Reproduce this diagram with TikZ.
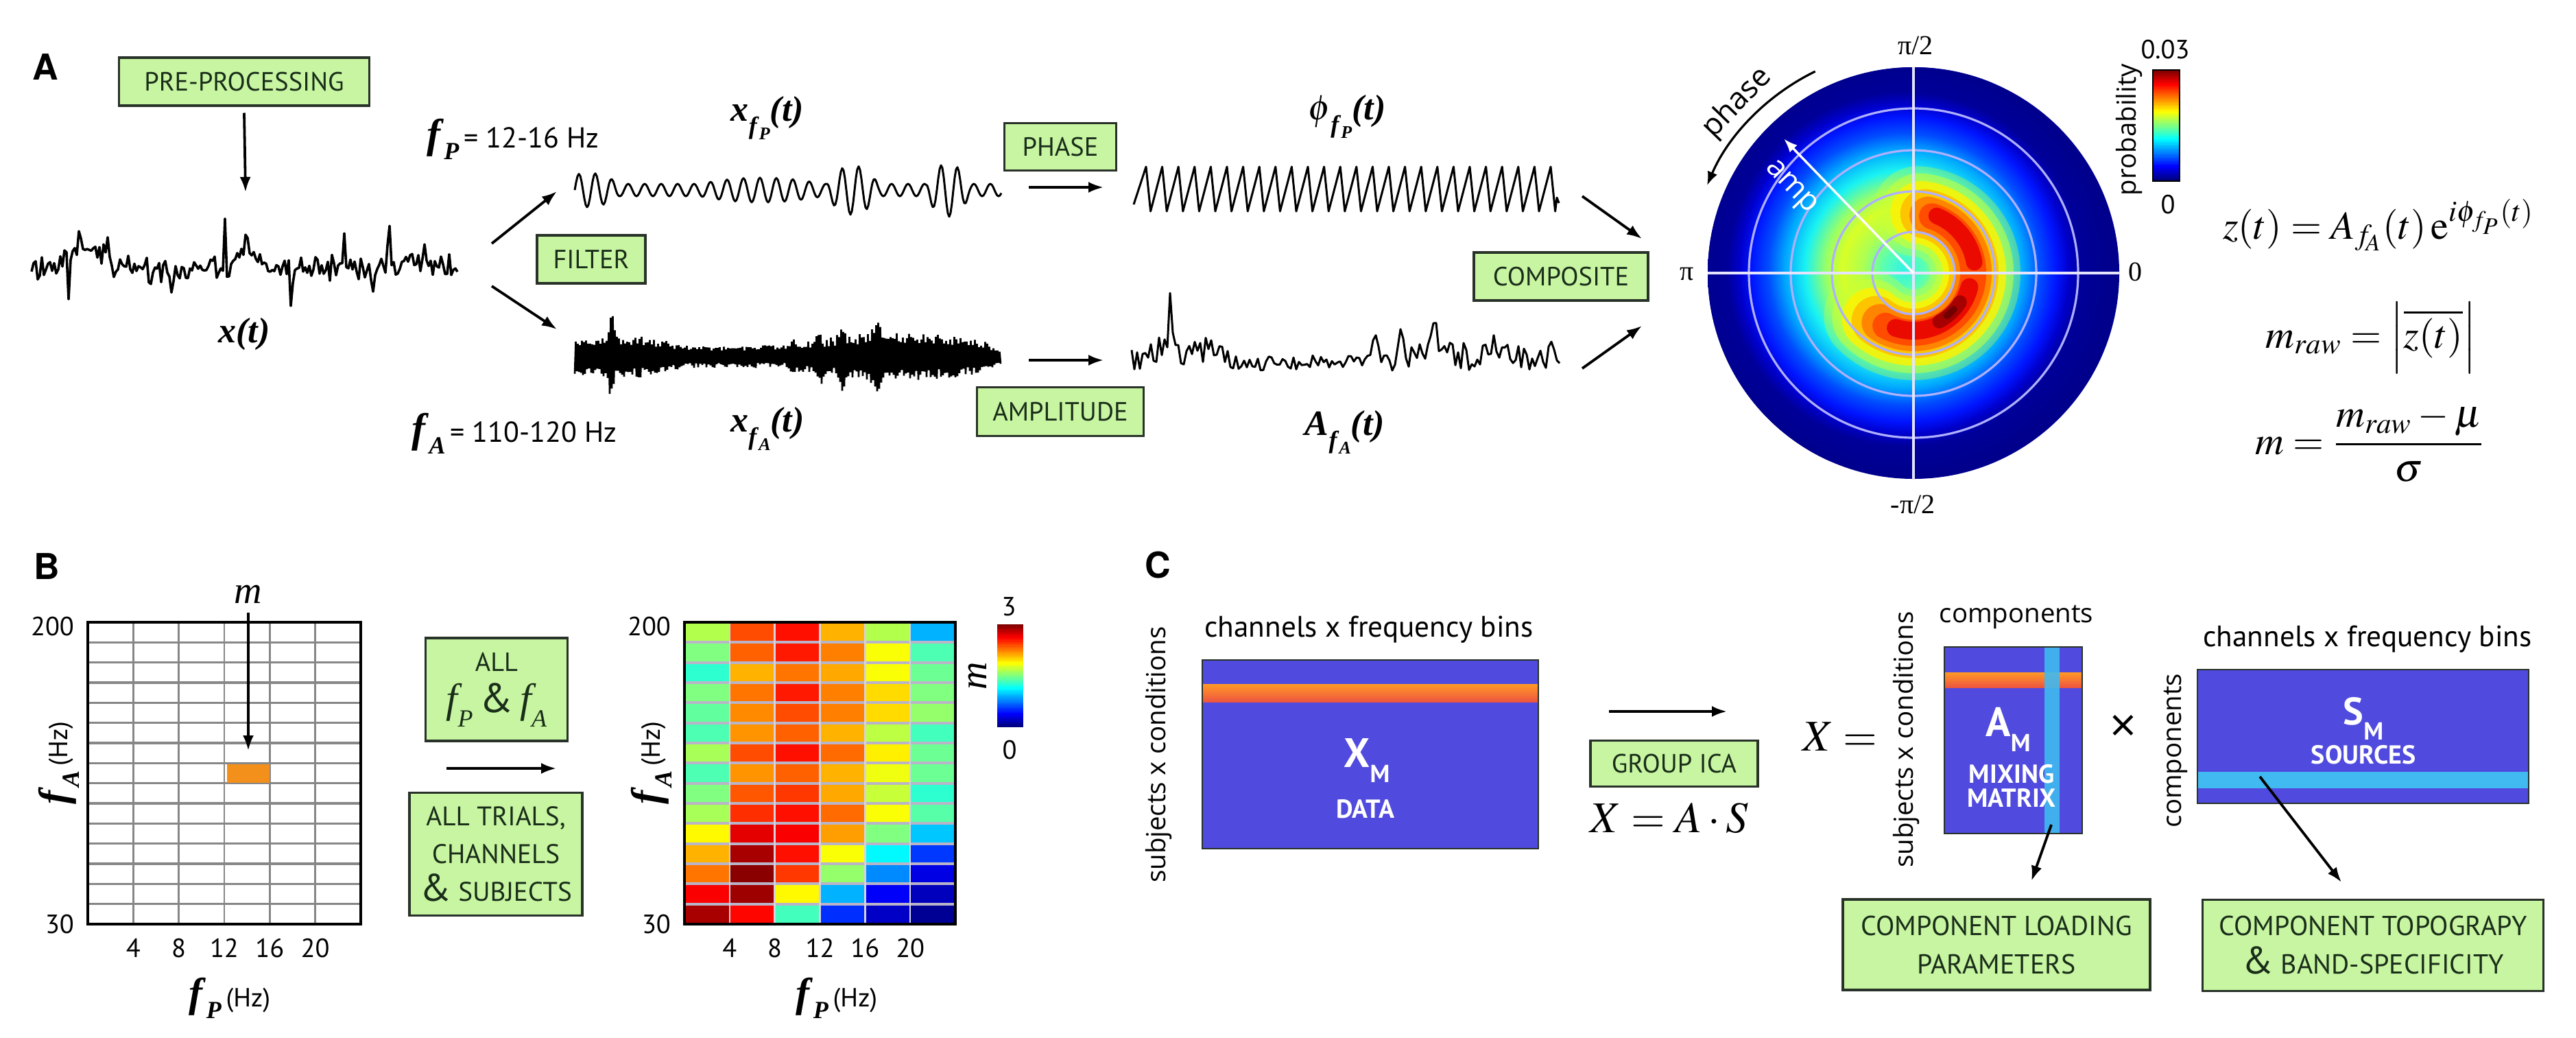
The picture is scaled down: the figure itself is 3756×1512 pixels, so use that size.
\documentclass[tikz,border=0pt]{standalone}
\usepackage{amsmath}
\usepackage{mathptmx}
\usepackage{fontspec}
\setmainfont{Liberation Serif}
\newfontfamily\boxfont{PT Sans}
\newfontfamily\osans{Open Sans}
\newfontfamily\hsans{TeX Gyre Heros}
\usetikzlibrary{arrows.meta}
\def\pxu{0.25pt}
\newcommand\fsz[2]{\fontsize{#1}{#2}\selectfont}
\newcommand\bi[1]{\textbf{\textit{#1}}}
\newcommand\jetdef[2]{%
  \pgfmathsetmacro\jr{max(0,min(1,1.5-abs(4*#1-3)))}%
  \pgfmathsetmacro\jg{max(0,min(1,1.5-abs(4*#1-2)))}%
  \pgfmathsetmacro\jb{max(0,min(1,1.5-abs(4*#1-1)))}%
  \definecolor{#2}{rgb}{\jr,\jg,\jb}}
\pgfmathdeclarefunction{bump}{3}{\pgfmathparse{max(0,1-((#1-#2)/#3)*((#1-#2)/#3))}}
\pgfmathdeclarefunction{tri}{3}{\pgfmathparse{max(0,1-abs(#1-#2)/#3)}}
\definecolor{boxgreen}{RGB}{200,245,162}
\definecolor{boxline}{RGB}{40,50,40}
\definecolor{boxtext}{RGB}{25,45,25}
\definecolor{matblue}{RGB}{80,74,222}
\definecolor{stripecyan}{RGB}{64,186,240}
\definecolor{gridgray}{RGB}{135,135,135}
\definecolor{heatline}{RGB}{185,180,200}
\definecolor{cellorange}{RGB}{243,144,28}
\definecolor{ringcol}{RGB}{175,175,255}
\definecolor{crossc}{RGB}{228,228,255}
\definecolor{cresA}{rgb}{0.8,1,0.2}
\definecolor{cresB}{rgb}{1,0.95,0}
\definecolor{cresC}{rgb}{1,0.75,0}
\definecolor{cresD}{rgb}{1,0.52,0}
\definecolor{cresE}{rgb}{1,0.3,0}
\definecolor{cresF}{rgb}{0.92,0.04,0}
\definecolor{cresG}{rgb}{0.65,0,0}
\definecolor{cresH}{rgb}{0.45,0,0}
\definecolor{jnavy}{rgb}{0,0,0.55}
\pgfdeclareradialshading{polarjet}{\pgfpoint{0bp}{0bp}}{%
 rgb(0bp)=(0.2,0.95,0.9);
 rgb(2.5bp)=(0.35,1,0.7);
 rgb(5bp)=(0.68,1,0.32);
 rgb(7.5bp)=(0.85,1,0.15);
 rgb(9.5bp)=(0.6,1,0.4);
 rgb(12bp)=(0.1,0.95,0.95);
 rgb(14.5bp)=(0,0.65,1);
 rgb(16.5bp)=(0,0.3,1);
 rgb(18.5bp)=(0,0.08,1);
 rgb(20bp)=(0,0,0.8);
 rgb(21.5bp)=(0,0,0.6);
 rgb(25bp)=(0,0,0.55);
 rgb(50bp)=(0,0,0.55)}
\begin{document}
\begin{tikzpicture}[x=0.25pt,y=-0.25pt,
  procbox/.style={draw=boxline, fill=boxgreen, line width=0.85pt, text=boxtext, font=\boxfont\fsz{9.6}{12}, inner sep=0pt, align=center},
  arr/.style={-{Latex[length=5.5pt,width=4pt]}, line width=0.95pt},
  sig/.style={line width=0.75pt, line join=round},
  panel/.style={font=\hsans\bfseries\fsz{13}{15}},
  tick/.style={font=\boxfont\fsz{9.6}{12}},
  osl/.style={font=\osans\fsz{9.6}{12}},
  chl/.style={font=\boxfont\fsz{10.8}{13}},
  wtxt/.style={text=white, font=\boxfont\bfseries\fsz{9.5}{11}},
  plab/.style={font=\fsz{10}{12}},
  eqs/.style={font=\fsz{14.5}{17}, anchor=base},
  siglab/.style={font=\fsz{13}{15}},
]
\fill[white] (0,0) rectangle (3756,1512);
\useasboundingbox (0,0) rectangle (3756,1512);

%================ PANEL A ================
\node[panel] (labA) at (66,98) {A};
\node[procbox, minimum width=365*\pxu, minimum height=70*\pxu] (pre) at (356,119) {PRE-PROCESSING};
\coordinate (preEnd) at (358,280);
\draw[arr] ([yshift=-2.2pt]pre.south) -- (preEnd);

% raw signal
\pgfmathsetseed{7}
\draw[sig, line width=0.9pt] plot[samples at={46,49,...,667}] (\x, {388 + 15*rand + 7*sin(40*mod(\x,9))
  - 32*bump(\x,118,40) + 10*bump(\x,230,50) - 20*bump(\x,355,30) + 4*bump(\x,470,60) - 8*bump(\x,610,40)
  + 80*tri(\x,100,3.5) - 55*tri(\x,157,3.5) - 75*tri(\x,328,3.5) + 50*tri(\x,331,3.5)
  - 50*tri(\x,502,3.5) + 48*tri(\x,544,3.5) - 62*tri(\x,568,3.5) - 30*tri(\x,619,3.5)
  + 35*tri(\x,250,3.5) - 30*tri(\x,361,3.5) + 40*tri(\x,424,3.5) - 28*tri(\x,460,3.5)});
\node[siglab] (xt) at (356,487) {\bi{x(t)}};

% filter fork
\coordinate (fork1) at (717,355);
\coordinate (fork1e) at (812,279);
\coordinate (fork2) at (717,417);
\coordinate (fork2e) at (812,480);
\draw[arr] (fork1) -- (fork1e);
\draw[arr] (fork2) -- (fork2e);
\node[procbox, minimum width=158*\pxu, minimum height=70*\pxu] (filter) at (862,378) {FILTER};

\node (fPlab) at (748,203) {{\fsz{15}{15}\bi{f}}\raisebox{-0.9ex}{\fsz{9}{9}\bi{P}}\,{\boxfont\fsz{10.5}{12}= 12-16 Hz}};
\node (fAlab) at (750,632) {{\fsz{15}{15}\bi{f}}\raisebox{-0.9ex}{\fsz{9}{9}\bi{A}}\,{\boxfont\fsz{10.5}{12}= 110-120 Hz}};
\node[siglab] (xfP) at (1119,172) {\bi{x}\raisebox{-0.8ex}{\fsz{9}{9}\bi{f}\raisebox{-0.5ex}{\fsz{6.5}{6.5}\bi{P}}}\bi{(t)}};
\node[siglab] (xfA) at (1119,625) {\bi{x}\raisebox{-0.8ex}{\fsz{9}{9}\bi{f}\raisebox{-0.5ex}{\fsz{6.5}{6.5}\bi{A}}}\bi{(t)}};

% upper filtered wave (12-16 Hz)
\draw[sig] plot[domain=838:1460, samples=312] (\x, {277 - (9 + 16*bump(\x,858,45) + 9*bump(\x,1110,90) + 27*bump(\x,1243,38) + 30*bump(\x,1382,32))*sin(15*(\x-838))});

% lower filtered wave (110-120 Hz)
\pgfmathsetseed{11}
\draw[line width=0.65pt] plot[samples at={838,839.5,...,1459}] (\x, {520 + (1-2*mod(round((\x-838)/1.5),2))*(0.6+0.5*rnd)*(15 + 14*bump(\x,900,95) + 17*bump(\x,1310,160) + 42*tri(\x,891,7) + 28*tri(\x,1193,9) + 24*tri(\x,1228,9) + 32*tri(\x,1277,9) + 10*tri(\x,1158,14) - 8*tri(\x,1460,30))});

% phase / amplitude
\node[procbox, minimum width=163*\pxu, minimum height=69*\pxu] (phase) at (1546,214) {PHASE};
\coordinate (ph1) at (1500,273);
\coordinate (ph2) at (1609,273);
\draw[arr] (ph1) -- (ph2);
\node[procbox, minimum width=243*\pxu, minimum height=71*\pxu] (ampl) at (1546,600) {AMPLITUDE};
\coordinate (am1) at (1500,525);
\coordinate (am2) at (1609,525);
\draw[arr] (am1) -- (am2);

\node[siglab] (phil) at (1964,170) {$\phi$\raisebox{-0.8ex}{\fsz{9}{9}\bi{f}\raisebox{-0.5ex}{\fsz{6.5}{6.5}\bi{P}}}\bi{(t)}};
\node[siglab] (Al) at (1961,630) {\bi{A}\raisebox{-0.8ex}{\fsz{9}{9}\bi{f}\raisebox{-0.5ex}{\fsz{6.5}{6.5}\bi{A}}}\bi{(t)}};

% sawtooth phase
\draw[sig] (1653,298) \foreach \k in {0,...,25} { -- ({1654+\k*23.6+17}, 243) -- ({1654+\k*23.6+23.6}, 308) } -- (2270,288) -- (2273,296);

% amplitude envelope
\pgfmathsetseed{5}
\draw[sig] plot[samples at={1650,1654,...,2274}] (\x, {540 - (22 + 32*bump(\x,1720,85) + 20*bump(\x,2130,150))*rnd
  - 95*tri(\x,1706,6) - 50*tri(\x,2006,10) - 40*tri(\x,2042,10) - 55*tri(\x,2090,10) - 30*tri(\x,2178,8) - 20*tri(\x,2262,8)});

% composite
\node[procbox, minimum width=254*\pxu, minimum height=70*\pxu] (comp) at (2276,403) {COMPOSITE};
\coordinate (c1) at (2307,286);
\coordinate (c1e) at (2394,348);
\coordinate (c2) at (2307,537);
\coordinate (c2e) at (2394,475);
\draw[arr] (c1) -- (c1e);
\draw[arr] (c2) -- (c2e);

% polar plot
\begin{scope}[shift={(2790,398)}, yscale=-1]
  \fill[jnavy] (0,0) circle (300);
  \begin{scope}
    \clip (0,0) circle (300);
    \shade[shading=polarjet] (-14,6) circle (300);
  \end{scope}
  \draw[cresA, opacity=0.35, line width=33pt, line cap=round] (86:90) arc[start angle=86, end angle=-136, radius=90];
  \draw[cresA, opacity=0.55, line width=28pt, line cap=round] (84:90) arc[start angle=84, end angle=-134, radius=90];
  \draw[cresB, opacity=0.8, line width=23pt, line cap=round] (82:89) arc[start angle=82, end angle=-131, radius=89];
  \draw[cresC, opacity=0.9, line width=18pt, line cap=round] (79:88) arc[start angle=79, end angle=-128, radius=88];
  \draw[cresD, line width=13.5pt, line cap=round] (76:87) arc[start angle=76, end angle=-124, radius=87];
  \draw[cresE, line width=9.5pt, line cap=round] (72:87) arc[start angle=72, end angle=-118, radius=87];
  \draw[cresF, line width=6pt, line cap=round] (68:90) arc[start angle=68, end angle=10, radius=90];
  \draw[cresF, line width=6.5pt, line cap=round] (-14:84) arc[start angle=-14, end angle=-108, radius=84];
  \draw[cresG, line width=5pt, line cap=round] (-32:80) arc[start angle=-32, end angle=-62, radius=80];
  \draw[cresH, line width=2.5pt, line cap=round] (-42:79) arc[start angle=-42, end angle=-52, radius=79];
  \foreach \r in {60,119,179,240} \draw[ringcol, line width=0.8pt] (0,0) circle (\r);
  \coordinate (pW) at (-300,0);
  \coordinate (pE) at (300,0);
  \coordinate (pN) at (0,300);
  \coordinate (pS) at (0,-300);
  \draw[crossc, line width=1pt] (pW) -- (pE);
  \draw[crossc, line width=1pt] (pN) -- (pS);
  \coordinate (pc) at (0,0);
  \coordinate (amptip) at (134:272);
  \draw[white, line width=0.85pt, -{Latex[length=5pt,width=3.8pt]}] (pc) -- (amptip);
  \node[text=white, rotate=-46, font=\osans\fsz{11}{12}] (amptxt) at (-180,124) {amp};
  \coordinate (phs) at (116:327);
  \draw[line width=0.8pt, -{Latex[length=5pt,width=3.8pt]}] (phs) arc[start angle=116, end angle=157, radius=327];
  \node[rotate=46, font=\osans\fsz{11}{13}] (phasetxt) at (136:357) {phase};
\end{scope}
\node[plab] (pi2) at (2793,66) {π/2};
\node[plab] (pi1) at (2460,400) {π};
\node[plab] (zero1) at (3113,396) {0};
\node[plab] (mpi2) at (2789,735) {-π/2};

% colorbar A
\foreach \i in {0,...,63} {
  \pgfmathsetmacro\v{\i/63}
  \jetdef{\v}{cbc}
  \fill[cbc] (3139,{264-\i*2.53125}) rectangle (3178,{264-(\i+1)*2.53125-0.4});
}
\draw[line width=0.4pt] (3139,102) rectangle (3178,264);
\node[tick] (cb03) at (3157,72) {0.03};
\node[tick] (cb0) at (3161,298) {0};
\node[osl, rotate=90] (prob) at (3104,189) {probability};

% equations
\node[eqs] (eq1) at (3468,348) {$z(t)=A_{f_{\!A}}(t)\,\mathrm{e}^{i\phi_{f_P}(t)}$};
\node[eqs] (eq2) at (3457,507) {$m_{raw}=\left|\overline{z(t)}\right|$};
\node[eqs] (eq3) at (3456,662) {$m=\dfrac{m_{raw}-\mu}{\sigma}$};

%================ PANEL B ================
\node[panel] (labB) at (68,826) {B};
% left empty grid
\foreach \i in {1,...,14} \draw[gridgray, line width=0.8pt] (128,{907+\i*29.333}) -- (526,{907+\i*29.333});
\foreach \j in {1,...,5} \draw[gridgray, line width=0.6pt] ({128+\j*66.33},907) -- ({128+\j*66.33},1347);
\fill[cellorange] (331,1114) rectangle (393,1141);
\draw[line width=1pt] (128,907) rectangle (526,1347);
\node[font=\fsz{14}{14}\itshape] (mlab) at (362,866) {m};
\coordinate (mEnd) at (362,1094);
\draw[arr] (mlab.south) -- (mEnd);
\node[tick, anchor=east] (l200) at (122,913) {200};
\node[tick, anchor=east] (l30) at (122,1347) {30};
\foreach \t [count=\j] in {4,8,12,16,20} \node[tick] (lt\j) at ({128+\j*66.33},1382) {\t};
\node[rotate=90] (lfa) at (86,1112) {{\fsz{15}{15}\bi{f}}\raisebox{-0.9ex}{\fsz{9}{9}\bi{A}}\,{\boxfont\fsz{9.6}{12}(Hz)}};
\node (lfp) at (335,1455) {{\fsz{15}{15}\bi{f}}\raisebox{-0.9ex}{\fsz{9}{9}\bi{P}}\,{\boxfont\fsz{9.6}{12}(Hz)}};

% middle boxes
\node[procbox, minimum width=207*\pxu, minimum height=150*\pxu] (allf) at (724,1005) {ALL\\[3pt]{\fsz{15}{15}{\rmfamily\itshape f}\raisebox{-0.7ex}{\fsz{9}{9}\rmfamily\itshape P}\,\&\,{\rmfamily\itshape f}\raisebox{-0.7ex}{\fsz{9}{9}\rmfamily\itshape A}}};
\coordinate (bA1) at (651,1120);
\coordinate (bA2) at (811,1120);
\draw[arr] (bA1) -- (bA2);
\node[procbox, minimum width=252*\pxu, minimum height=179*\pxu, font=\boxfont\fsz{9.8}{13.8}] (alltr) at (723,1245) {ALL TRIALS,\\CHANNELS\\{\fsz{14}{14}\&} SUBJECTS};

% heatmap
\foreach \row [count=\r from 0] in {
 {0.55,0.80,0.86,0.70,0.55,0.30},
 {0.50,0.78,0.85,0.75,0.62,0.45},
 {0.42,0.70,0.76,0.71,0.62,0.48},
 {0.50,0.76,0.85,0.75,0.66,0.50},
 {0.47,0.74,0.80,0.75,0.66,0.52},
 {0.45,0.73,0.78,0.70,0.56,0.44},
 {0.54,0.80,0.86,0.77,0.64,0.48},
 {0.45,0.73,0.78,0.70,0.61,0.48},
 {0.50,0.79,0.82,0.71,0.57,0.42},
 {0.54,0.83,0.86,0.77,0.62,0.46},
 {0.63,0.90,0.88,0.72,0.50,0.32},
 {0.70,0.96,0.86,0.62,0.37,0.18},
 {0.76,0.99,0.82,0.52,0.26,0.10},
 {0.88,0.97,0.63,0.30,0.12,0.06},
 {0.96,0.87,0.44,0.17,0.07,0.02}} {
  \foreach \v [count=\c from 0] in \row {
    \jetdef{\v}{hc}
    \fill[hc] ({998+\c*65.833},{907+\r*29.333}) rectangle ({998+(\c+1)*65.833},{907+(\r+1)*29.333});
  }
}
\foreach \i in {1,...,14} \draw[heatline, line width=1pt] (998,{907+\i*29.333}) -- (1393,{907+\i*29.333});
\foreach \j in {1,...,5} \draw[heatline!60!white, line width=0.6pt] ({998+\j*65.833},907) -- ({998+\j*65.833},1347);
\draw[line width=1pt] (998,907) rectangle (1393,1347);
\node[tick, anchor=east] (r200) at (992,913) {200};
\node[tick, anchor=east] (r30) at (992,1347) {30};
\foreach \t [count=\j] in {4,8,12,16,20} \node[tick] (rt\j) at ({998+\j*65.833},1382) {\t};
\node[rotate=90] (rfa) at (950,1112) {{\fsz{15}{15}\bi{f}}\raisebox{-0.9ex}{\fsz{9}{9}\bi{A}}\,{\boxfont\fsz{9.6}{12}(Hz)}};
\node (rfp) at (1220,1455) {{\fsz{15}{15}\bi{f}}\raisebox{-0.9ex}{\fsz{9}{9}\bi{P}}\,{\boxfont\fsz{9.6}{12}(Hz)}};
% colorbar B
\foreach \i in {0,...,63} {
  \pgfmathsetmacro\v{\i/63}
  \jetdef{\v}{cbc}
  \fill[cbc] (1454,{1060-\i*2.34375}) rectangle (1492,{1060-(\i+1)*2.34375-0.4});
}
\node[tick] (cb3) at (1471,884) {3};
\node[tick] (cbb0) at (1472,1093) {0};
\node[rotate=90, font=\fsz{14}{14}\itshape] (cbm) at (1425,985) {m};

%================ PANEL C ================
\node[panel] (labC) at (1688,824) {C};
\node[osl, rotate=90] (subj1) at (1690,1100) {subjects x conditions};
\node[chl] (chan1) at (1996,918) {channels x frequency bins};
\fill[matblue] (1753,962) rectangle (2243,1237);
\shade[top color={rgb,1:red,1;green,0.6;blue,0.15}, middle color={rgb,1:red,1;green,0.95;blue,0.1}, bottom color={rgb,1:red,0.93;green,0.33;blue,0.25}] (1753,997) rectangle (2243,1023);
\draw[line width=0.6pt, boxline] (1753,962) rectangle (2243,1237);
\node[text=white, font=\boxfont\bfseries] (XM) at (1993,1108) {{\fsz{15}{15}X}\raisebox{-1.1ex}{\fsz{9}{9}M}};
\node[wtxt] (data) at (1991,1179) {DATA};

\coordinate (ic1) at (2346,1037);
\coordinate (ic2) at (2518,1037);
\draw[arr] (ic1) -- (ic2);
\node[procbox, minimum width=244*\pxu, minimum height=67*\pxu] (ica) at (2441,1113) {GROUP ICA};
\node[font=\fsz{16}{18}] (xas) at (2434,1193) {$X=A\cdot S$};
\node[font=\fsz{16}{18}] (xeq) at (2683,1074) {$X=$};

\node[osl, rotate=90] (subj2) at (2779,1078) {subjects x conditions};
\node[osl] (comp1) at (2940,899) {components};
\fill[matblue] (2835,943) rectangle (3036,1215);
\shade[top color={rgb,1:red,1;green,0.6;blue,0.15}, middle color={rgb,1:red,1;green,0.95;blue,0.1}, bottom color={rgb,1:red,0.93;green,0.33;blue,0.25}] (2835,980) rectangle (3036,1002);
\fill[stripecyan, opacity=0.9] (2981,943) rectangle (3003,1215);
\draw[line width=0.6pt, boxline] (2835,943) rectangle (3036,1215);
\node[text=white, font=\boxfont\bfseries] (AM) at (2928,1063) {{\fsz{15}{15}A}\raisebox{-1.1ex}{\fsz{9}{9}M}};
\node[wtxt] (mix) at (2933,1128) {MIXING};
\node[wtxt] (matx) at (2933,1163) {MATRIX};

\node[font=\osans\fsz{17}{18}] (times) at (3096,1062) {×};
\node[osl, rotate=90] (comp2) at (3172,1094) {components};
\node[chl] (chan2) at (3452,932) {channels x frequency bins};
\fill[matblue] (3204,976) rectangle (3687,1171);
\fill[stripecyan] (3204,1125) rectangle (3687,1149);
\draw[line width=0.6pt, boxline] (3204,976) rectangle (3687,1171);
\node[text=white, font=\boxfont\bfseries] (SM) at (3446,1047) {{\fsz{14}{14}S}\raisebox{-1.1ex}{\fsz{9}{9}M}};
\node[wtxt] (src) at (3446,1100) {SOURCES};

\coordinate (aS) at (2991,1202);
\coordinate (aE) at (2962,1284);
\draw[arr] (aS) -- (aE);
\coordinate (sS) at (3295,1132);
\coordinate (sE) at (3414,1286);
\draw[arr] (sS) -- (sE);
\node[procbox, minimum width=448*\pxu, minimum height=132*\pxu, font=\boxfont\fsz{10}{14}] (load) at (2911,1377) {COMPONENT LOADING\\PARAMETERS};
\node[procbox, minimum width=497*\pxu, minimum height=133*\pxu, font=\boxfont\fsz{10}{14}] (topo) at (3460,1378) {COMPONENT TOPOGRAPY\\{\fsz{14}{14}\&} BAND-SPECIFICITY};
\end{tikzpicture}
\end{document}
